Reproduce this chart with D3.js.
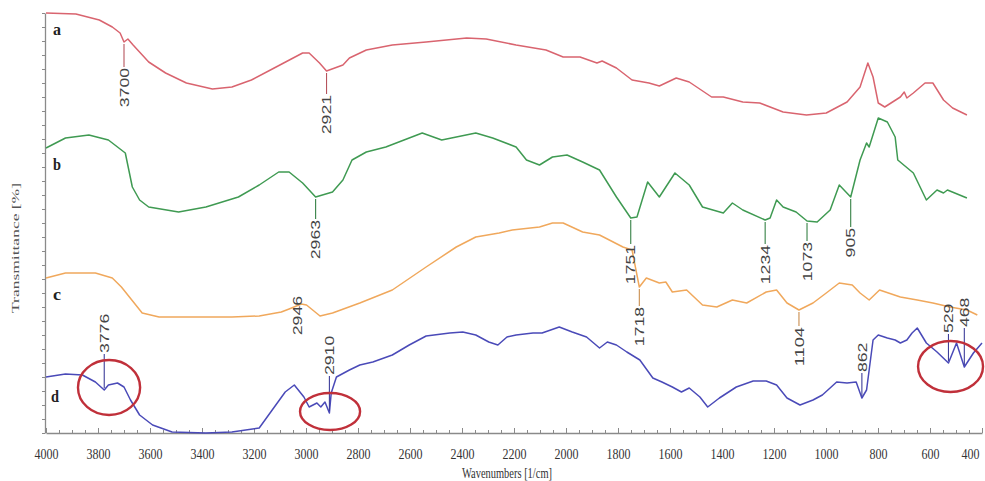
<!DOCTYPE html>
<html>
<head>
<meta charset="utf-8">
<script src="https://cdn.jsdelivr.net/npm/d3@7/dist/d3.min.js"></script>
<style>
  html, body { margin: 0; padding: 0; background: #fff; }
  svg { display: block; }
</style>
</head>
<body>
<svg id="chart" width="985" height="481"></svg>
<script>
// FTIR spectra a–d, stacked with vertical offsets.
// Each point: [wavenumber (1/cm), transmittance (offset units)]
const spectrumA = [
  [4000,420],[3885,419],[3795,413],[3745,406],[3715,400],[3700,391],[3685,394],[3665,388],
  [3605,371],[3540,360],[3460,350],[3360,344],[3285,346],[3210,353],[3115,366],[3013,380],
  [2988,380],[2948,370],[2921,362],[2858,368],[2833,375],[2768,383],[2668,388],[2538,391],
  [2382,395],[2307,394],[2192,388],[2077,383],[2011,376],[1946,376],[1881,370],[1861,372],
  [1806,365],[1746,353],[1681,350],[1641,347],[1576,355],[1526,351],[1440,336],[1395,336],
  [1320,331],[1255,330],[1165,321],[1075,318],[999,320],[919,331],[869,346],[839,370],
  [819,356],[799,330],[774,326],[714,336],[699,341],[689,335],[664,340],[619,350],
  [589,350],[548,333],[513,325],[458,318]
];
const spectrumB = [
  [4000,285],[3925,295],[3835,298],[3760,293],[3695,280],[3668,246],[3640,233],[3605,226],
  [3490,221],[3385,226],[3260,236],[3180,248],[3105,261],[3065,261],[3013,250],[2963,236],
  [2898,241],[2858,253],[2823,273],[2768,281],[2693,286],[2553,300],[2478,293],[2347,300],
  [2282,295],[2192,286],[2152,273],[2102,268],[2052,276],[1996,278],[1936,271],[1871,263],
  [1806,236],[1751,215],[1727,216],[1686,251],[1641,236],[1581,260],[1526,248],[1475,226],
  [1435,223],[1395,220],[1360,230],[1320,223],[1234,213],[1215,215],[1190,233],[1165,226],
  [1115,221],[1073,212],[1034,211],[984,223],[949,248],[905,236],[869,273],[844,290],
  [834,286],[799,315],[764,311],[734,296],[724,273],[664,260],[614,233],[573,243],
  [548,240],[533,243],[458,235]
];
const spectrumC = [
  [4000,155],[3925,160],[3810,160],[3745,155],[3710,146],[3670,133],[3630,120],[3565,116],
  [3410,116],[3285,116],[3180,117],[3095,121],[3065,124],[3018,129],[2998,128],[2946,117],
  [2898,120],[2793,130],[2668,143],[2538,166],[2422,186],[2347,196],[2257,200],[2207,203],
  [2102,206],[2052,210],[2011,210],[1936,201],[1871,198],[1781,186],[1746,183],[1718,146],
  [1691,155],[1641,150],[1616,151],[1591,141],[1536,143],[1475,128],[1420,126],[1360,133],
  [1305,130],[1230,141],[1190,143],[1150,130],[1104,123],[1050,130],[999,140],[949,150],
  [899,148],[869,140],[834,133],[794,143],[714,136],[649,133],[589,130],[523,126],
  [458,123],[418,118]
];
const spectrumD = [
  [4000,56],[3925,59],[3860,58],[3810,51],[3776,43],[3760,48],[3725,50],[3700,46],
  [3675,33],[3640,18],[3590,8],[3515,1],[3385,0],[3285,1],[3180,5],[3130,23],
  [3080,41],[3045,48],[3008,36],[2988,26],[2958,30],[2943,26],[2927,31],[2910,20],
  [2903,40],[2883,56],[2833,63],[2793,68],[2743,71],[2668,78],[2603,88],[2538,97],
  [2447,100],[2397,101],[2347,98],[2297,91],[2262,88],[2227,96],[2192,98],[2127,100],
  [2092,100],[2026,106],[1976,101],[1921,96],[1871,85],[1841,91],[1806,88],[1766,81],
  [1716,73],[1666,55],[1631,51],[1591,46],[1556,41],[1526,45],[1485,36],[1455,26],
  [1410,35],[1345,46],[1280,52],[1230,52],[1190,48],[1150,35],[1100,28],[1050,33],
  [1014,38],[959,51],[919,50],[884,51],[862,35],[844,43],[819,93],[799,98],
  [764,95],[734,93],[714,90],[689,93],[669,100],[649,105],[614,90],[573,81],
  [529,70],[498,90],[468,66],[433,80],[400,90]
];

const seriesNames = ["a", "b", "c", "d"];

// Band positions marked on each spectrum (1/cm)
const peaksA = [3700, 2921];
const peaksB = [2963, 1751, 1234, 1073, 905];
const peaksC = [2946, 1718, 1104];
const peaksD = [3776, 2910, 862, 529, 468];

// Regions circled on spectrum d: [wavenumber from, to, transmittance high, low]
const circledRegions = [
  [3877, 3638, 73, 18],
  [3023, 2792, 40, 3],
  [646, 396, 92, 41]
];

const xTickValues = d3.range(4000, 399, -200);
const xMinorTickValues = d3.range(4000, 399, -50);
const yTickValues = d3.range(0, 421, 14);

const xTitle = "Wavenumbers [1/cm]";
const yTitle = "Transmittance [%]";

// ---------- drawing ----------
const svg = d3.select("#chart");
const x = d3.scaleLinear().domain([4000, 400]).range([46, 982]);
const y = d3.scaleLinear().domain([0, 420]).range([433, 13]);

const colors = { a: "#d9646f", b: "#3f9a52", c: "#f0a85c", d: "#4a4ab8" };
const spectra = { a: spectrumA, b: spectrumB, c: spectrumC, d: spectrumD };
const peaks = { a: peaksA, b: peaksB, c: peaksC, d: peaksD };

const axisColor = "#8a8a8a";

// x axis: minor ticks then major ticks with labels
const gxMinor = svg.append("g")
  .attr("transform", `translate(0,${y(0)})`)
  .call(d3.axisBottom(x).tickValues(xMinorTickValues).tickFormat("").tickSize(-3).tickSizeOuter(0));
gxMinor.select(".domain").remove();
gxMinor.selectAll("line").attr("stroke", axisColor);

const gx = svg.append("g")
  .attr("transform", `translate(0,${y(0)})`)
  .call(d3.axisBottom(x).tickValues(xTickValues).tickSize(-5).tickSizeOuter(0).tickPadding(15)
    .tickFormat(d3.format("d")));
gx.select(".domain").attr("stroke", axisColor).attr("stroke-width", 1.3);
gx.selectAll("line").attr("stroke", axisColor);
gx.selectAll("text")
  .attr("font-family", "'Liberation Serif', 'Times New Roman', serif")
  .attr("font-size", 15)
  .attr("fill", "#333")
  .attr("textLength", d => String(d).length * 6)
  .attr("lengthAdjust", "spacingAndGlyphs");
// keep the last label inside the right edge
gx.selectAll("text").filter(d => d === 400)
  .attr("text-anchor", "end")
  .attr("dx", -3);

// y axis: unlabeled ticks
const gy = svg.append("g")
  .attr("transform", `translate(${x(4000) - 1},0)`)
  .call(d3.axisLeft(y).tickValues(yTickValues).tickFormat("").tickSize(3).tickSizeOuter(0));
gy.select(".domain").attr("stroke", axisColor).attr("stroke-width", 1.3);
gy.selectAll("line").attr("stroke", axisColor);

// axis titles
svg.append("text")
  .attr("x", 507).attr("y", 478)
  .attr("text-anchor", "middle")
  .attr("font-family", "'Liberation Serif', 'Times New Roman', serif")
  .attr("font-size", 15)
  .attr("fill", "#333")
  .attr("textLength", 90)
  .attr("lengthAdjust", "spacingAndGlyphs")
  .text(xTitle);

svg.append("text")
  .attr("transform", "translate(15,248) rotate(-90)")
  .attr("text-anchor", "middle")
  .attr("dy", "0.35em")
  .attr("font-family", "'Liberation Serif', 'Times New Roman', serif")
  .attr("font-size", 11)
  .attr("fill", "#555")
  .attr("textLength", 130)
  .attr("lengthAdjust", "spacingAndGlyphs")
  .text(yTitle);

// spectra
const line = d3.line().x(d => x(d[0])).y(d => y(d[1]));
seriesNames.forEach(k => {
  svg.append("path")
    .datum(spectra[k])
    .attr("fill", "none")
    .attr("stroke", colors[k])
    .attr("stroke-width", 1.5)
    .attr("stroke-linejoin", "round")
    .attr("d", line);
});

// series letters
const letterPos = { a: [3958, 398], b: [3958, 263], c: [3958, 133], d: [3965, 31] };
seriesNames.forEach(k => {
  svg.append("text")
    .attr("x", x(letterPos[k][0]))
    .attr("y", y(letterPos[k][1]))
    .attr("text-anchor", "middle")
    .attr("font-family", "'Liberation Serif', 'Times New Roman', serif")
    .attr("font-weight", "bold")
    .attr("font-size", 17)
    .attr("fill", "#222")
    .attr("textLength", 8)
    .attr("lengthAdjust", "spacingAndGlyphs")
    .text(k);
});

// band labels: leader line plus rotated wavenumber
const labelLayout = {
  3700: { lead: 26 }, 2921: { lead: 24 },
  2963: { lead: 23 }, 1751: { lead: 27 }, 1234: { lead: 25 }, 1073: { lead: 21 }, 905: { lead: 31 },
  2946: { lead: -20, dx: -23, line: false }, 1718: { lead: 20 }, 1104: { lead: 17 },
  3776: { lead: 37 }, 2910: { lead: 38 }, 862: { lead: 26 }, 529: { lead: 30 }, 468: { lead: 40 }
};

seriesNames.forEach(k => {
  const above = (k === "d");
  const lineColor = d3.color(colors[k]).darker(0.5).formatHex();
  peaks[k].forEach(wn => {
    const pt = spectra[k].find(p => p[0] === wn);
    const px = x(wn), py = y(pt[1]);
    const lay = labelLayout[wn];
    const dx = lay.dx || 0;
    const len = String(wn).length * 9.8;
    if (lay.line !== false) {
      svg.append("line")
        .attr("x1", px).attr("x2", px)
        .attr("y1", above ? py - 2 : py + 2)
        .attr("y2", above ? py - lay.lead + 1 : py + lay.lead - 1)
        .attr("stroke", lineColor)
        .attr("stroke-width", 1.1);
    }
    const ty = above ? py - lay.lead : py + lay.lead;
    svg.append("text")
      .attr("transform", `translate(${px + dx},${ty}) rotate(-90)`)
      .attr("text-anchor", above ? "start" : "end")
      .attr("dy", "0.36em")
      .attr("font-family", "'Liberation Sans', Arial, sans-serif")
      .attr("font-size", 13)
      .attr("fill", "#444")
      .attr("textLength", len)
      .attr("lengthAdjust", "spacingAndGlyphs")
      .text(wn);
  });
});

// circled regions on spectrum d
svg.selectAll("ellipse.mark")
  .data(circledRegions)
  .enter().append("ellipse")
  .attr("class", "mark")
  .attr("cx", d => (x(d[0]) + x(d[1])) / 2)
  .attr("cy", d => (y(d[2]) + y(d[3])) / 2)
  .attr("rx", d => Math.abs(x(d[1]) - x(d[0])) / 2)
  .attr("ry", d => Math.abs(y(d[3]) - y(d[2])) / 2)
  .attr("fill", "none")
  .attr("stroke", "#c0303a")
  .attr("stroke-width", 2.4);
</script>
</body>
</html>
